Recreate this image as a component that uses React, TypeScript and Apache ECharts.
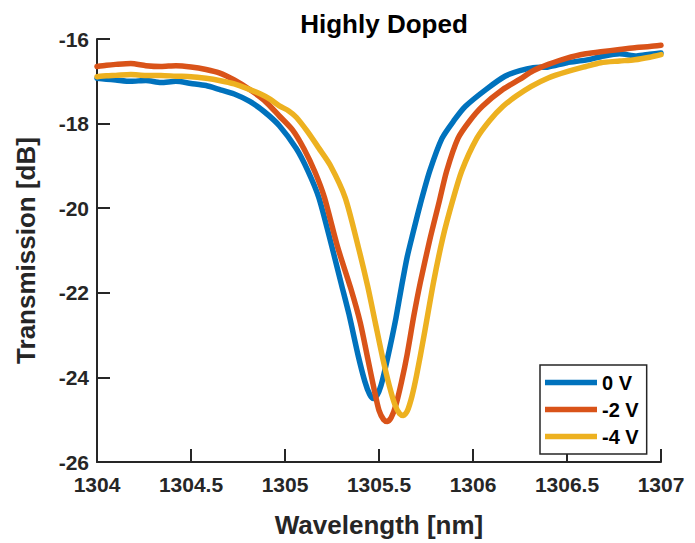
import React, { useEffect, useRef } from "react";
import * as echarts from "echarts";

const seriesNames = ["0 V", "-2 V", "-4 V"];
const seriesColors = ["#0072BD", "#D95319", "#EDB120"];

const wl0V = [1304.0, 1304.05, 1304.1, 1304.18, 1304.26, 1304.34, 1304.42, 1304.5, 1304.58, 1304.65, 1304.73, 1304.81, 1304.89, 1304.97, 1305.06, 1305.12, 1305.18, 1305.25, 1305.3, 1305.34, 1305.39, 1305.425, 1305.45, 1305.47, 1305.49, 1305.51, 1305.53, 1305.56, 1305.59, 1305.62, 1305.65, 1305.68, 1305.72, 1305.77, 1305.835, 1305.9, 1305.96, 1306.07, 1306.17, 1306.25, 1306.32, 1306.4, 1306.5, 1306.6, 1306.68, 1306.78, 1306.87, 1306.94, 1307.0];
const tr0V = [-16.93, -16.95, -16.97, -17.0, -16.98, -17.03, -17.0, -17.05, -17.1, -17.19, -17.3, -17.47, -17.72, -18.05, -18.59, -19.1, -19.75, -20.92, -21.8, -22.5, -23.5, -24.1, -24.4, -24.5, -24.42, -24.2, -23.85, -23.25, -22.6, -21.85, -21.15, -20.6, -19.9, -19.12, -18.35, -17.92, -17.59, -17.19, -16.88, -16.75, -16.68, -16.66, -16.56, -16.5, -16.42, -16.35, -16.4, -16.36, -16.33];

const wl2V = [1304.0, 1304.05, 1304.1, 1304.18, 1304.26, 1304.34, 1304.42, 1304.5, 1304.58, 1304.65, 1304.73, 1304.81, 1304.89, 1304.97, 1305.04, 1305.1, 1305.16, 1305.21, 1305.28, 1305.35, 1305.4, 1305.44, 1305.475, 1305.5, 1305.525, 1305.545, 1305.565, 1305.59, 1305.62, 1305.65, 1305.685, 1305.72, 1305.77, 1305.82, 1305.86, 1305.92, 1305.98, 1306.05, 1306.16, 1306.25, 1306.32, 1306.4, 1306.5, 1306.6, 1306.68, 1306.78, 1306.87, 1306.94, 1307.0];
const tr2V = [-16.65, -16.62, -16.6, -16.58, -16.63, -16.65, -16.63, -16.66, -16.72, -16.8, -16.97, -17.19, -17.45, -17.82, -18.15, -18.59, -19.15, -19.75, -20.92, -21.9, -22.7, -23.55, -24.3, -24.78, -25.0, -25.04, -24.95, -24.65, -24.1, -23.45, -22.55, -21.75, -20.75, -19.85, -19.12, -18.35, -17.95, -17.59, -17.19, -16.95, -16.75, -16.6, -16.45, -16.35, -16.3, -16.25, -16.2, -16.18, -16.15];

const wl4V = [1304.0, 1304.05, 1304.1, 1304.18, 1304.26, 1304.34, 1304.42, 1304.5, 1304.58, 1304.65, 1304.73, 1304.81, 1304.87, 1304.92, 1304.97, 1305.02, 1305.06, 1305.12, 1305.18, 1305.24, 1305.32, 1305.39, 1305.44, 1305.48, 1305.52, 1305.555, 1305.585, 1305.61, 1305.63, 1305.65, 1305.675, 1305.7, 1305.74, 1305.79, 1305.84, 1305.89, 1305.94, 1306.02, 1306.09, 1306.16, 1306.23, 1306.31, 1306.4, 1306.5, 1306.6, 1306.68, 1306.78, 1306.86, 1306.94, 1307.0];
const tr4V = [-16.89, -16.87, -16.86, -16.84, -16.86, -16.86, -16.88, -16.89, -16.93, -16.98, -17.06, -17.19, -17.3, -17.42, -17.58, -17.7, -17.85, -18.19, -18.58, -18.98, -19.75, -20.92, -21.85, -22.7, -23.55, -24.2, -24.65, -24.86, -24.9, -24.8, -24.45, -23.95, -23.0, -21.75, -20.69, -19.85, -19.12, -18.35, -17.92, -17.59, -17.35, -17.12, -16.92, -16.77, -16.65, -16.56, -16.52, -16.49, -16.43, -16.37];

const xTicks = { min: 1304, max: 1307, interval: 0.5 };
const yTicks = { min: -26, max: -16, interval: 2 };

const pairs = (xs: number[], ys: number[]) => xs.map((x, i) => [x, ys[i]]);

export default function App() {
  const ref = useRef<HTMLDivElement>(null);
  useEffect(() => {
    if (!ref.current) return;
    const chart = echarts.init(ref.current, null, { renderer: "svg" });
    const font = "Liberation Sans, Arial, Helvetica, sans-serif";
    const axisColor = "#262626";
    const datasets = [pairs(wl0V, tr0V), pairs(wl2V, tr2V), pairs(wl4V, tr4V)];
    chart.setOption({
      animation: false,
      backgroundColor: "#ffffff",
      title: {
        text: "Highly Doped",
        left: 379,
        textAlign: "center",
        top: 6,
        textStyle: { fontFamily: font, fontWeight: "bold", fontSize: 26, color: "#000" },
      },
      grid: { left: 97, right: 34, top: 39, bottom: 75 },
      legend: {
        data: seriesNames,
        orient: "vertical",
        left: 540,
        top: 365,
        itemWidth: 52,
        itemHeight: 20,
        itemGap: 7,
        icon: "path://M0,0 L52,0 L52,5.5 L0,5.5 Z",
        padding: [7.5, 8, 7.5, 5],
        borderColor: axisColor,
        borderWidth: 1.5,
        backgroundColor: "#ffffff",
        textStyle: { fontFamily: font, fontWeight: "bold", fontSize: 20, color: "#000" },
      },
      xAxis: {
        type: "value",
        min: xTicks.min,
        max: xTicks.max,
        interval: xTicks.interval,
        name: "Wavelength [nm]",
        nameLocation: "middle",
        nameGap: 50,
        nameTextStyle: { fontFamily: font, fontWeight: "bold", fontSize: 26, color: axisColor },
        axisLine: { onZero: false, lineStyle: { color: axisColor, width: 2 } },
        axisTick: { inside: true, length: 13, lineStyle: { color: axisColor, width: 2 } },
        axisLabel: {
          margin: 12,
          fontFamily: font,
          fontWeight: "bold",
          fontSize: 21,
          color: axisColor,
          formatter: (v: number) => String(v),
        },
        splitLine: { show: false },
      },
      yAxis: {
        type: "value",
        min: yTicks.min,
        max: yTicks.max,
        interval: yTicks.interval,
        name: "Transmission [dB]",
        nameLocation: "middle",
        nameGap: 58,
        nameTextStyle: { fontFamily: font, fontWeight: "bold", fontSize: 26, color: axisColor },
        axisLine: { show: true, onZero: false, lineStyle: { color: axisColor, width: 2 } },
        axisTick: { show: true, inside: true, length: 13, lineStyle: { color: axisColor, width: 2 } },
        axisLabel: {
          margin: 8,
          fontFamily: font,
          fontWeight: "bold",
          fontSize: 21,
          color: axisColor,
          formatter: (v: number) => String(v),
        },
        splitLine: { show: false },
      },
      series: seriesNames.map((name, i) => ({
        name,
        type: "line",
        data: datasets[i],
        showSymbol: false,
        symbol: "none",
        smooth: 0.25,
        color: seriesColors[i],
        lineStyle: { color: seriesColors[i], width: 5.5, join: "round", cap: "round" },
        z: 2 + i,
      })),
    });
    return () => chart.dispose();
  }, []);
  return <div ref={ref} style={{ width: 695, height: 543, marginTop: -8, marginLeft: -8 }} />;
}
